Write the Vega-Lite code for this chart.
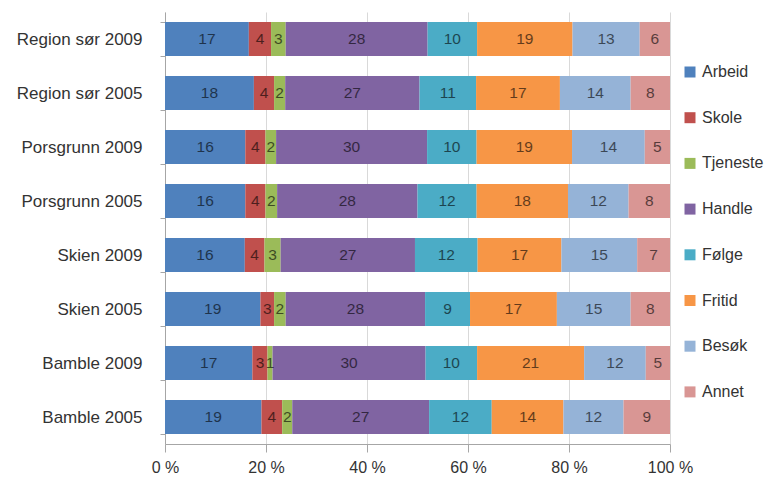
{
  "$schema": "https://vega.github.io/schema/vega-lite/v6.json",
  "width": 505,
  "height": 432,
  "autosize": {"type": "none"},
  "padding": {"left": 165, "top": 12, "right": 99, "bottom": 34},
  "background": "white",
  "config": {
    "font": "Liberation Sans",
    "view": {"stroke": null},
    "axis": {"labelFont": "Liberation Sans", "labelFontSize": 16, "labelColor": "#333333"},
    "legend": {"labelFont": "Liberation Sans", "labelFontSize": 16, "labelColor": "#333333"}
  },
  "data": {
    "values": [
      {"c": "Region sør 2009", "s": "Arbeid", "v": 16.6},
      {"c": "Region sør 2009", "s": "Skole", "v": 4.4},
      {"c": "Region sør 2009", "s": "Tjeneste", "v": 2.9},
      {"c": "Region sør 2009", "s": "Handle", "v": 28.1},
      {"c": "Region sør 2009", "s": "Følge", "v": 9.8},
      {"c": "Region sør 2009", "s": "Fritid", "v": 18.9},
      {"c": "Region sør 2009", "s": "Besøk", "v": 13.3},
      {"c": "Region sør 2009", "s": "Annet", "v": 6.0},
      {"c": "Region sør 2005", "s": "Arbeid", "v": 17.6},
      {"c": "Region sør 2005", "s": "Skole", "v": 4.0},
      {"c": "Region sør 2005", "s": "Tjeneste", "v": 2.2},
      {"c": "Region sør 2005", "s": "Handle", "v": 26.6},
      {"c": "Region sør 2005", "s": "Følge", "v": 11.2},
      {"c": "Region sør 2005", "s": "Fritid", "v": 16.6},
      {"c": "Region sør 2005", "s": "Besøk", "v": 14.0},
      {"c": "Region sør 2005", "s": "Annet", "v": 7.8},
      {"c": "Porsgrunn 2009", "s": "Arbeid", "v": 15.9},
      {"c": "Porsgrunn 2009", "s": "Skole", "v": 4.0},
      {"c": "Porsgrunn 2009", "s": "Tjeneste", "v": 2.1},
      {"c": "Porsgrunn 2009", "s": "Handle", "v": 29.9},
      {"c": "Porsgrunn 2009", "s": "Følge", "v": 9.8},
      {"c": "Porsgrunn 2009", "s": "Fritid", "v": 18.9},
      {"c": "Porsgrunn 2009", "s": "Besøk", "v": 14.4},
      {"c": "Porsgrunn 2009", "s": "Annet", "v": 5.0},
      {"c": "Porsgrunn 2005", "s": "Arbeid", "v": 15.9},
      {"c": "Porsgrunn 2005", "s": "Skole", "v": 4.0},
      {"c": "Porsgrunn 2005", "s": "Tjeneste", "v": 2.3},
      {"c": "Porsgrunn 2005", "s": "Handle", "v": 27.8},
      {"c": "Porsgrunn 2005", "s": "Følge", "v": 11.7},
      {"c": "Porsgrunn 2005", "s": "Fritid", "v": 18.1},
      {"c": "Porsgrunn 2005", "s": "Besøk", "v": 12.0},
      {"c": "Porsgrunn 2005", "s": "Annet", "v": 8.2},
      {"c": "Skien 2009", "s": "Arbeid", "v": 15.8},
      {"c": "Skien 2009", "s": "Skole", "v": 3.9},
      {"c": "Skien 2009", "s": "Tjeneste", "v": 3.2},
      {"c": "Skien 2009", "s": "Handle", "v": 26.6},
      {"c": "Skien 2009", "s": "Følge", "v": 12.4},
      {"c": "Skien 2009", "s": "Fritid", "v": 16.6},
      {"c": "Skien 2009", "s": "Besøk", "v": 15.0},
      {"c": "Skien 2009", "s": "Annet", "v": 6.5},
      {"c": "Skien 2005", "s": "Arbeid", "v": 18.9},
      {"c": "Skien 2005", "s": "Skole", "v": 2.7},
      {"c": "Skien 2005", "s": "Tjeneste", "v": 2.3},
      {"c": "Skien 2005", "s": "Handle", "v": 27.6},
      {"c": "Skien 2005", "s": "Følge", "v": 8.9},
      {"c": "Skien 2005", "s": "Fritid", "v": 17.2},
      {"c": "Skien 2005", "s": "Besøk", "v": 14.6},
      {"c": "Skien 2005", "s": "Annet", "v": 7.8},
      {"c": "Bamble 2009", "s": "Arbeid", "v": 17.3},
      {"c": "Bamble 2009", "s": "Skole", "v": 3.0},
      {"c": "Bamble 2009", "s": "Tjeneste", "v": 1.0},
      {"c": "Bamble 2009", "s": "Handle", "v": 30.3},
      {"c": "Bamble 2009", "s": "Følge", "v": 10.2},
      {"c": "Bamble 2009", "s": "Fritid", "v": 21.2},
      {"c": "Bamble 2009", "s": "Besøk", "v": 12.2},
      {"c": "Bamble 2009", "s": "Annet", "v": 4.8},
      {"c": "Bamble 2005", "s": "Arbeid", "v": 19.1},
      {"c": "Bamble 2005", "s": "Skole", "v": 4.1},
      {"c": "Bamble 2005", "s": "Tjeneste", "v": 2.0},
      {"c": "Bamble 2005", "s": "Handle", "v": 27.1},
      {"c": "Bamble 2005", "s": "Følge", "v": 12.4},
      {"c": "Bamble 2005", "s": "Fritid", "v": 14.2},
      {"c": "Bamble 2005", "s": "Besøk", "v": 11.9},
      {"c": "Bamble 2005", "s": "Annet", "v": 9.2}
    ]
  },
  "transform": [
    {"window": [{"op": "row_number", "as": "i"}]}
  ],
  "encoding": {
    "y": {
      "field": "c",
      "type": "nominal",
      "sort": ["Region sør 2009", "Region sør 2005", "Porsgrunn 2009", "Porsgrunn 2005", "Skien 2009", "Skien 2005", "Bamble 2009", "Bamble 2005"],
      "scale": {"paddingInner": 0.37, "paddingOuter": 0.185},
      "axis": {
        "title": null,
        "ticks": true,
        "tickBand": "extent",
        "tickSize": 5,
        "tickColor": "#a6a6a6",
        "labelPadding": 18,
        "labelFontSize": 17,
        "domainColor": "#a6a6a6"
      }
    },
    "order": {"field": "i", "type": "quantitative"},
    "detail": {"field": "s"}
  },
  "layer": [
    {
      "mark": {"type": "bar"},
      "encoding": {
        "x": {
          "field": "v",
          "type": "quantitative",
          "stack": "normalize",
          "scale": {"domain": [0, 1], "nice": false},
          "axis": {
            "title": null,
            "values": [0, 0.2, 0.4, 0.6, 0.8, 1],
            "labelExpr": "format(datum.value * 100, 'd') + ' %'",
            "labelFlush": false,
            "grid": true,
            "gridColor": "#d9d9d9",
            "domainColor": "#a6a6a6",
            "tickColor": "#a6a6a6",
            "tickSize": 8,
            "labelPadding": 7
          }
        },
        "color": {
          "field": "s",
          "type": "nominal",
          "scale": {
            "domain": ["Arbeid", "Skole", "Tjeneste", "Handle", "Følge", "Fritid", "Besøk", "Annet"],
            "range": ["#4F81BD", "#C0504D", "#9BBB59", "#8064A2", "#4BACC6", "#F79646", "#95B3D7", "#D99694"]
          },
          "legend": {
            "title": null,
            "orient": "none",
            "legendX": 517,
            "legendY": 52,
            "symbolType": "square",
            "symbolSize": 121,
            "symbolStrokeWidth": 0,
            "rowPadding": 29.7,
            "labelOffset": 4
          }
        }
      }
    },
    {
      "mark": {"type": "text", "fontSize": 15.5, "fill": "#000000", "opacity": 0.6},
      "encoding": {
        "x": {"field": "v", "type": "quantitative", "stack": "normalize", "bandPosition": 0.5},
        "text": {"field": "v", "type": "quantitative", "format": ".0f"}
      }
    }
  ]
}
